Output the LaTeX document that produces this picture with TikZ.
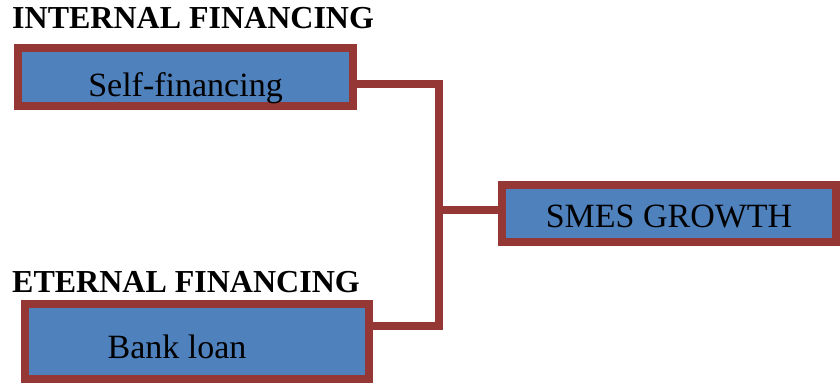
\documentclass[tikz,border=0pt]{standalone}
\usepackage{fontspec}
\setmainfont{Liberation Serif}
\definecolor{boxblue}{HTML}{4F81BD}
\definecolor{boxred}{HTML}{953735}

\begin{document}
\begin{tikzpicture}[x=1pt,y=-1pt,
    box/.style={draw=boxred,fill=boxblue,line width=8pt,inner sep=0pt,
      font=\fontsize{34}{40}\selectfont},
    head/.style={anchor=base west,inner sep=0pt,
      font=\bfseries\fontsize{32}{38}\selectfont},
    link/.style={draw=boxred,line width=8pt}]
  \useasboundingbox (0,0) rectangle (840,385);
  \node[head] (internal) at (12,29) {INTERNAL FINANCING};
  \node[head] (external) at (12,292) {ETERNAL FINANCING};
  \node[box,minimum width=335pt,text height=49pt,text depth=9pt] (self) at (185.5,77) {Self-financing};
  \node[box,minimum width=344pt,text height=54pt,text depth=21pt] (bank) at (197,341.5) {Bank loan\hspace*{40pt}};
  \node[box,minimum width=334pt,text height=42pt,text depth=15pt] (smes) at (669,213.5) {SMES GROWTH};
  \coordinate (joint) at (439,210);
  \draw[link] ([yshift=-7pt]self.east) -| (joint) |- ([yshift=15.5pt]bank.east);
  \draw[link] (joint) -- ([yshift=3.5pt]smes.west);
\end{tikzpicture}
\end{document}
